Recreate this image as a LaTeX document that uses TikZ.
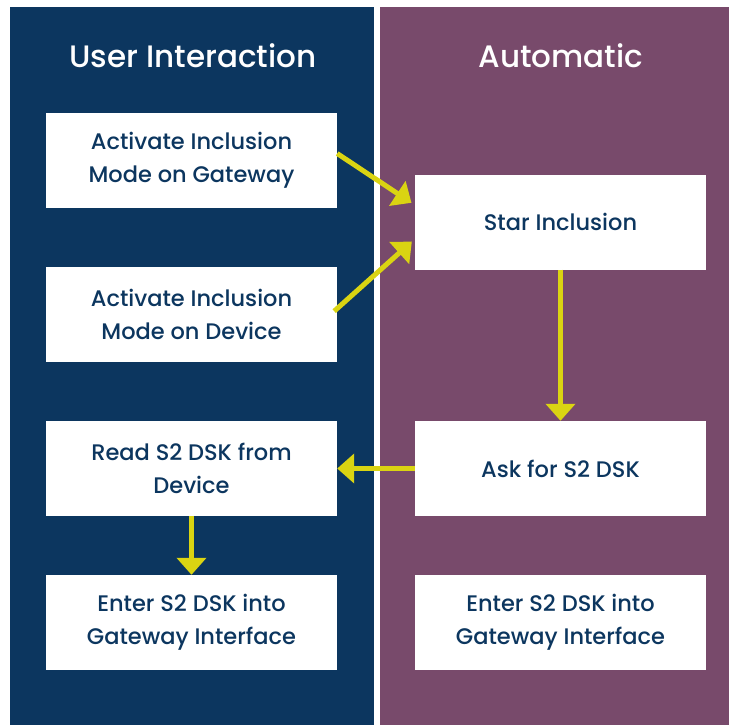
\documentclass[tikz,border=0pt]{standalone}
\usepackage{fontspec}
\setmainfont{Poppins}
\newfontfamily\medfont{Poppins Medium}
\usetikzlibrary{arrows.meta,positioning}
\definecolor{navy}{HTML}{0C365F}
\definecolor{plum}{HTML}{784A6B}
\definecolor{flash}{HTML}{DAD412}

\begin{document}
\begin{tikzpicture}[x=1pt,y=1pt,node distance=154pt,
	box/.style={fill=white,minimum width=291pt,minimum height=95pt,align=center,
		text=navy,font=\medfont\fontsize{22.5}{33}\selectfont,inner sep=0pt},
	head/.style={text=white,font=\medfont\fontsize{31}{36}\selectfont},
	flow/.style={draw=flash,line width=5pt,-{Triangle[length=17pt,width=29pt]}}]
	\useasboundingbox (0,0) rectangle (729,-725);
	\fill[navy] (10,-7) rectangle (374,-725);
	\fill[plum] (380,-7) rectangle (729,-725);
	\node[head] (user) at (193,-56) {User Interaction};
	\node[head] (auto) at (561,-56) {Automatic};
	\node[box] (gw) at (191.5,-160.5) {Activate Inclusion\\Mode on Gateway};
	\node[box] (dev) [below of=gw] {Activate Inclusion\\Mode on Device};
	\node[box] (read) [below of=dev] {Read S2 DSK from\\Device};
	\node[box] (enter) [below of=read] {Enter S2 DSK into\\Gateway Interface};
	\node[box] (star) at (560.5,-222) {Star Inclusion};
	\node[box] (ask) at (560.5,-468.5) {Ask for S2 DSK};
	\node[box] (enter2) [right of=enter,node distance=369pt] {Enter S2 DSK into\\Gateway Interface};
	\draw[flow,shorten >=4pt] ([yshift=7pt]gw.east) -- ([yshift=17pt]star.west);
	\draw[flow,shorten >=4pt,shorten <=-4pt] ([yshift=6pt]dev.east) -- ([yshift=-17pt]star.west);
	\draw[flow] (star.south) -- (ask.north);
	\draw[flow] (ask.west) -- (read.east);
	\draw[flow] (read.south) -- (enter.north);
\end{tikzpicture}
\end{document}
